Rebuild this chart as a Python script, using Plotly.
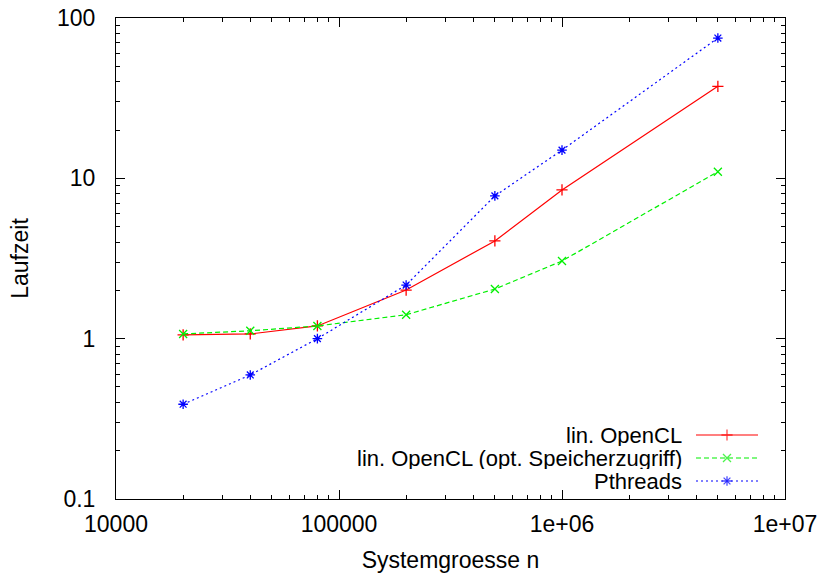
import plotly.graph_objects as go

# Problem sizes and measured run times
sizes = [20000, 40000, 80000, 200000, 500000, 1000000, 5000000]
opencl = [1.055, 1.07, 1.2, 2.01, 4.07, 8.47, 37.5]
opencl_opt = [1.07, 1.12, 1.2, 1.41, 2.04, 3.05, 11.0]
pthreads = [0.39, 0.594, 1.0, 2.16, 7.77, 15.0, 75.0]

names = ["lin. OpenCL", "lin. OpenCL (opt. Speicherzugriff)", "Pthreads"]
colors = ["#ff0000", "#00f000", "#0000ff"]
dashes = ["solid", "5px,3px", "2px,3px"]
symbols = ["cross-thin-open", "x-thin-open", "asterisk-open"]
series = [opencl, opencl_opt, pthreads]

FONT = "Liberation Sans, Arial, Helvetica, sans-serif"
FS = 23
KEY_FS = 22

fig = go.Figure()
for name, vals, col, dash, sym in zip(names, series, colors, dashes, symbols):
    fig.add_trace(go.Scatter(
        x=sizes, y=vals, name=name, mode="lines+markers",
        line=dict(color=col, width=1.2, dash=dash),
        marker=dict(symbol=sym, size=8, color=col, line=dict(color=col, width=1.3)),
        showlegend=False,
    ))

# Key in the lower right corner: right-aligned labels with line samples after them
key_rows = [435, 458, 481]
for name, col, dash, sym, yk in zip(names, colors, dashes, symbols, key_rows):
    fig.add_trace(go.Scatter(
        x=[696, 727, 758], y=[yk, yk, yk], xaxis="x2", yaxis="y2",
        mode="lines+markers", showlegend=False, hoverinfo="skip",
        line=dict(color=col, width=1.2, dash=dash),
        marker=dict(symbol=sym, size=[0, 8, 0], color=col, line=dict(color=col, width=1.3)),
    ))
    fig.add_annotation(x=683, y=yk, xref="x2", yref="y2", text=name, showarrow=False,
                       xanchor="right", yanchor="middle", borderpad=0, height=21,
                       font=dict(family=FONT, size=KEY_FS, color="black"))

axis_common = dict(
    type="log", showgrid=False, zeroline=False, automargin=False,
    showline=True, linecolor="black", linewidth=1, mirror="ticks",
    ticks="inside", ticklen=9, tickcolor="black", tickwidth=1,
    minor=dict(ticks="inside", ticklen=4, tickcolor="black", tickwidth=1, dtick="D1"),
    tickfont=dict(family=FONT, size=FS, color="black"),
)

fig.update_layout(
    width=823, height=573,
    margin=dict(l=116, r=38, t=18, b=74),
    paper_bgcolor="white", plot_bgcolor="white",
    font=dict(family=FONT, size=FS, color="black"),
    xaxis=dict(axis_common, range=[4, 7], dtick=1,
               tickvals=[1e4, 1e5, 1e6, 1e7],
               ticktext=["10000", "100000", "1e+06", "1e+07"],
               ticklabelstandoff=4,
               title=dict(text="Systemgroesse n", font=dict(family=FONT, size=FS), standoff=18)),
    yaxis=dict(axis_common, range=[-1, 2], dtick=1,
               tickvals=[0.1, 1, 10, 100],
               ticktext=["0.1", "1", "10", "100"],
               ticklabelstandoff=15,
               title=dict(text="Laufzeit", font=dict(family=FONT, size=FS), standoff=21)),
    xaxis2=dict(overlaying="x", range=[116, 785], visible=False, fixedrange=True),
    yaxis2=dict(overlaying="y", range=[499, 18], visible=False, fixedrange=True),
)

fig.write_html("out.html")
